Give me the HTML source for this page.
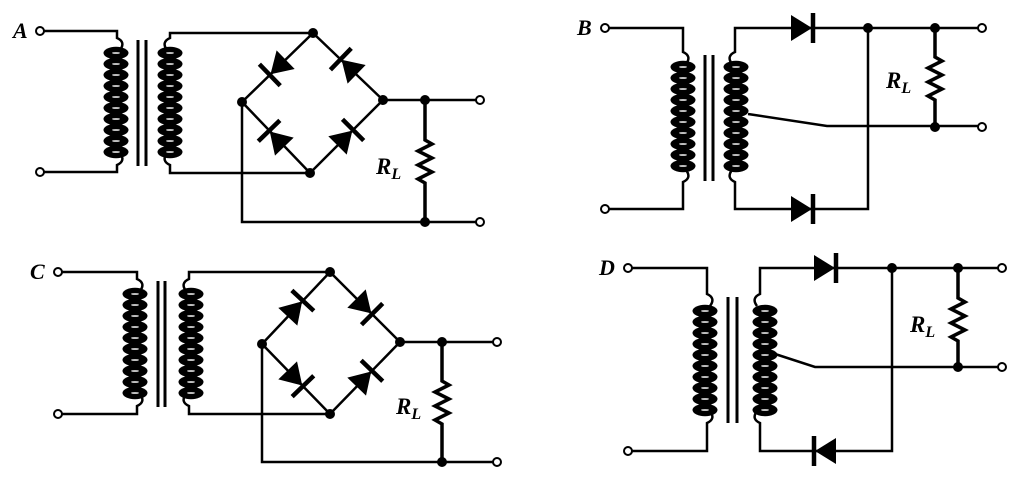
<!DOCTYPE html>
<html><head><meta charset="utf-8"><style>
html,body{margin:0;padding:0;background:#fff;}
svg{display:block;}
text{font-family:"Liberation Serif",serif;font-style:italic;font-weight:bold;fill:#000;}
</style></head><body>
<svg width="1022" height="480" viewBox="0 0 1022 480" xmlns="http://www.w3.org/2000/svg">
<defs>
<g id="coil">
<g fill="#000">
<ellipse cx="0" cy="0" rx="12.5" ry="6.2"/><ellipse cx="0" cy="11" rx="12.5" ry="6.2"/><ellipse cx="0" cy="22" rx="12.5" ry="6.2"/><ellipse cx="0" cy="33" rx="12.5" ry="6.2"/><ellipse cx="0" cy="44" rx="12.5" ry="6.2"/><ellipse cx="0" cy="55" rx="12.5" ry="6.2"/><ellipse cx="0" cy="66" rx="12.5" ry="6.2"/><ellipse cx="0" cy="77" rx="12.5" ry="6.2"/><ellipse cx="0" cy="88" rx="12.5" ry="6.2"/><ellipse cx="0" cy="99" rx="12.5" ry="6.2"/>
</g>
<g fill="#fff">
<ellipse cx="0" cy="0" rx="4" ry="0.8"/><ellipse cx="0" cy="11" rx="4" ry="0.8"/><ellipse cx="0" cy="22" rx="4" ry="0.8"/><ellipse cx="0" cy="33" rx="4" ry="0.8"/><ellipse cx="0" cy="44" rx="4" ry="0.8"/><ellipse cx="0" cy="55" rx="4" ry="0.8"/><ellipse cx="0" cy="66" rx="4" ry="0.8"/><ellipse cx="0" cy="77" rx="4" ry="0.8"/><ellipse cx="0" cy="88" rx="4" ry="0.8"/><ellipse cx="0" cy="99" rx="4" ry="0.8"/>
</g>
</g>
<g id="d">
<polygon points="-12,-13 -12,13 9,0" fill="#000"/>
<line x1="10" y1="-15" x2="10" y2="15" stroke="#000" stroke-width="4.5"/>
</g>
</defs>
<g stroke="#000" stroke-width="2.5" fill="none">
<!-- A -->
<path d="M44,31 H117 V38 q9,4 3,12"/>
<path d="M44,172 H117 V165 q9,-4 3,-12"/>
<line x1="138" y1="40" x2="138" y2="166" stroke-width="3"/>
<line x1="146" y1="40" x2="146" y2="166" stroke-width="3"/>
<path d="M313,33 H170 V38 q-9,4 -3,12"/>
<path d="M310,173 H170 V165 q-9,-4 -3,-12"/>
<path d="M313,33 L383,100 L310,173 L242,102 Z"/>
<path d="M383,100 H476"/>
<path d="M242,102 V222 H476"/>
<path d="M425,100 V140 l7,4 l-14,7 l14,7 l-14,7 l14,7 l-14,7 l7,4 V222" stroke-width="3.5"/>
<!-- B -->
<path d="M609,28 H683 V52 q9,4 3,12"/>
<path d="M609,209 H683 V182 q9,-4 3,-12"/>
<line x1="705" y1="55" x2="705" y2="181" stroke-width="3"/>
<line x1="713" y1="55" x2="713" y2="181" stroke-width="3"/>
<path d="M978,28 H735 V52 q-9,4 -3,12"/>
<path d="M868,28 V209 H735 V182 q-9,-4 -3,-12"/>
<path d="M748,114 L827,126 H978"/>
<path d="M935,28 V57 l7,4 l-14,7 l14,7 l-14,7 l14,7 l-14,7 l7,4 V127" stroke-width="3.5"/>
<!-- C -->
<path d="M62,272 H137 V279 q9,4 3,12"/>
<path d="M62,414 H137 V406 q9,-4 3,-12"/>
<line x1="158" y1="281" x2="158" y2="407" stroke-width="3"/>
<line x1="165" y1="281" x2="165" y2="407" stroke-width="3"/>
<path d="M330,272 H189 V279 q-9,4 -3,12"/>
<path d="M330,414 H189 V406 q-9,-4 -3,-12"/>
<path d="M330,272 L400,342 L330,414 L262,344 Z"/>
<path d="M400,342 H493"/>
<path d="M262,344 V462 H493"/>
<path d="M442,342 V381 l7,4 l-14,7 l14,7 l-14,7 l14,7 l-14,7 l7,4 V462" stroke-width="3.5"/>
<!-- D -->
<path d="M632,268 H707 V294 q9,4 3,12"/>
<path d="M632,451 H707 V423 q9,-4 3,-12"/>
<line x1="728" y1="297" x2="728" y2="423" stroke-width="3"/>
<line x1="737" y1="297" x2="737" y2="423" stroke-width="3"/>
<path d="M998,268 H760 V294 q-9,4 -3,12"/>
<path d="M892,268 V451 H760 V423 q-9,-4 -3,-12"/>
<path d="M772,353 L815,367 H998"/>
<path d="M958,268 V298 l7,4 l-14,7 l14,7 l-14,7 l14,7 l-14,7 l7,4 V367" stroke-width="3.5"/>
</g>
<!-- coils -->
<use href="#coil" transform="translate(116,53)"/>
<use href="#coil" transform="translate(170,53)"/>
<use href="#coil" transform="translate(683,67)"/>
<use href="#coil" transform="translate(736,67)"/>
<use href="#coil" transform="translate(135,294)"/>
<use href="#coil" transform="translate(191,294)"/>
<use href="#coil" transform="translate(705,311)"/>
<use href="#coil" transform="translate(765,311)"/>
<!-- diodes -->
<use href="#d" transform="translate(277,68) rotate(136)"/>
<use href="#d" transform="translate(348,66) rotate(224)"/>
<use href="#d" transform="translate(276,138) rotate(226)"/>
<use href="#d" transform="translate(346,137) rotate(-45)"/>
<use href="#d" transform="translate(296,308) rotate(-47)"/>
<use href="#d" transform="translate(365,307) rotate(45)"/>
<use href="#d" transform="translate(296,379) rotate(46)"/>
<use href="#d" transform="translate(365,378) rotate(-46)"/>
<use href="#d" transform="translate(803,28)"/>
<use href="#d" transform="translate(803,209)"/>
<use href="#d" transform="translate(826,268)"/>
<use href="#d" transform="translate(824,451) rotate(180)"/>
<!-- nodes -->
<g fill="#000">
<circle cx="313" cy="33" r="5"/><circle cx="242" cy="102" r="5"/><circle cx="383" cy="100" r="5"/><circle cx="310" cy="173" r="5"/><circle cx="425" cy="100" r="5"/><circle cx="425" cy="222" r="5"/>
<circle cx="868" cy="28" r="5"/><circle cx="935" cy="28" r="5"/><circle cx="935" cy="127" r="5"/>
<circle cx="330" cy="272" r="5"/><circle cx="262" cy="344" r="5"/><circle cx="400" cy="342" r="5"/><circle cx="330" cy="414" r="5"/><circle cx="442" cy="342" r="5"/><circle cx="442" cy="462" r="5"/>
<circle cx="892" cy="268" r="5"/><circle cx="958" cy="268" r="5"/><circle cx="958" cy="367" r="5"/>
</g>
<!-- terminals -->
<g fill="#fff" stroke="#000" stroke-width="2">
<circle cx="40" cy="31" r="4"/><circle cx="40" cy="172" r="4"/><circle cx="480" cy="100" r="4"/><circle cx="480" cy="222" r="4"/>
<circle cx="605" cy="28" r="4"/><circle cx="605" cy="209" r="4"/><circle cx="982" cy="28" r="4"/><circle cx="982" cy="127" r="4"/>
<circle cx="58" cy="272" r="4"/><circle cx="58" cy="414" r="4"/><circle cx="497" cy="342" r="4"/><circle cx="497" cy="462" r="4"/>
<circle cx="628" cy="268" r="4"/><circle cx="628" cy="451" r="4"/><circle cx="1002" cy="268" r="4"/><circle cx="1002" cy="367" r="4"/>
</g>
<!-- labels -->
<text x="13" y="38" font-size="22">A</text>
<text x="577" y="35" font-size="22">B</text>
<text x="30" y="279" font-size="22">C</text>
<text x="599" y="275" font-size="22">D</text>
<text x="376" y="174" font-size="23">R<tspan font-size="16" dy="5">L</tspan></text>
<text x="886" y="88" font-size="23">R<tspan font-size="16" dy="5">L</tspan></text>
<text x="396" y="414" font-size="23">R<tspan font-size="16" dy="5">L</tspan></text>
<text x="910" y="332" font-size="23">R<tspan font-size="16" dy="5">L</tspan></text>
</svg>
</body></html>
